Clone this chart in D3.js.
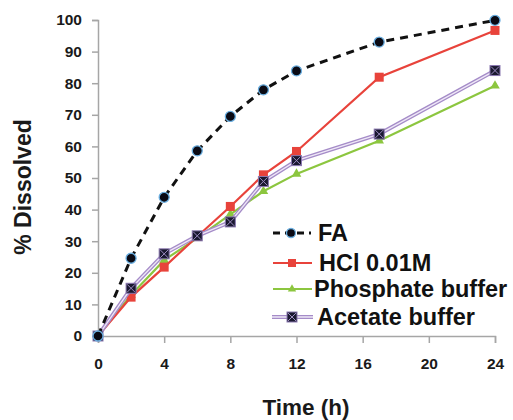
<!DOCTYPE html>
<html><head><meta charset="utf-8">
<script src="https://cdn.jsdelivr.net/npm/d3@7"></script>
<style>body{margin:0;background:#fff}svg{display:block}text{font-family:"Liberation Sans",Arial,sans-serif;font-weight:bold}</style>
</head><body><svg id="c" width="513" height="420"></svg>
<script>
const times = [0, 2, 4, 6, 8, 10, 12, 17, 24];
const faValues = [0, 24.6, 43.9, 58.6, 69.5, 77.9, 83.9, 93.0, 99.9];
const hclValues = [0, 12.3, 21.8, 31.5, 41.0, 51.0, 58.4, 81.9, 96.7];
const phosphateValues = [0, 13.0, 24.0, 31.0, 38.5, 45.8, 51.3, 61.8, 79.2];
const acetateValues = [0, 15.1, 26.0, 31.7, 36.1, 48.9, 55.5, 63.9, 84.0];
const seriesNames = ["FA", "HCl 0.01M", "Phosphate buffer", "Acetate buffer"];
const xTicks = [0, 4, 8, 12, 16, 20, 24];
const yTicks = [0, 10, 20, 30, 40, 50, 60, 70, 80, 90, 100];

const svg = d3.select("#c");
const x = d3.scaleLinear().domain([0, 24]).range([98, 495]);
const y = d3.scaleLinear().domain([0, 100]).range([336, 20]);
const axisColor = "#a6a6a6";

// Y axis
const ya = svg.append("g").attr("transform", "translate(98,0)")
  .call(d3.axisLeft(y).tickValues(yTicks).tickSize(6).tickPadding(10));
// X axis
const xa = svg.append("g").attr("transform", "translate(0,336)")
  .call(d3.axisBottom(x).tickValues(xTicks).tickSize(7).tickPadding(15));
[ya, xa].forEach(a => {
  a.select(".domain").attr("stroke", axisColor).attr("stroke-width", 1.5);
  a.selectAll(".tick line").attr("stroke", axisColor).attr("stroke-width", 1.5);
  a.selectAll("text").attr("fill", "#1a1a1a").style("font-size", "15.5px").style("font-weight", "bold")
    .style("font-family", "'Liberation Sans',Arial,sans-serif");
});

// titles
svg.append("text").attr("transform", "translate(31,187) rotate(-90)").attr("text-anchor", "middle")
  .style("font-size", "23px").attr("fill", "#1a1a1a").text("% Dissolved");
svg.append("text").attr("x", 306).attr("y", 415).attr("text-anchor", "middle")
  .style("font-size", "22.5px").attr("fill", "#1a1a1a").text("Time (h)");

const line = d3.line().x((d, i) => x(times[i])).y(d => y(d));

// Phosphate
svg.append("path").datum(phosphateValues).attr("d", line).attr("fill", "none")
  .attr("stroke", "#8cc63f").attr("stroke-width", 2.2);
const tri = d3.symbol().type(d3.symbolTriangle).size(40);
svg.selectAll(".pm").data(phosphateValues).enter().append("path")
  .attr("d", tri).attr("transform", (d, i) => `translate(${x(times[i])},${y(d)})`).attr("fill", "#8cc63f");

// HCl
svg.append("path").datum(hclValues).attr("d", line).attr("fill", "none")
  .attr("stroke", "#e8433b").attr("stroke-width", 2.2);
svg.selectAll(".hm").data(hclValues).enter().append("rect")
  .attr("x", (d, i) => x(times[i]) - 4.5).attr("y", d => y(d) - 4.5)
  .attr("width", 9).attr("height", 9).attr("fill", "#e8433b");

// Acetate (double line)
svg.append("path").datum(acetateValues).attr("d", line).attr("fill", "none")
  .attr("stroke", "#a58cc8").attr("stroke-width", 4);
svg.append("path").datum(acetateValues).attr("d", line).attr("fill", "none")
  .attr("stroke", "#efe8f7").attr("stroke-width", 1.3);
function acetateMarker(g, cx, cy) {
  g.append("rect").attr("x", cx - 5).attr("y", cy - 5).attr("width", 10).attr("height", 10)
    .attr("fill", "#1a1830").attr("stroke", "#8a78b0").attr("stroke-width", 1);
  g.append("path").attr("d", `M${cx - 4},${cy - 4}L${cx + 4},${cy + 4}M${cx - 4},${cy + 4}L${cx + 4},${cy - 4}`)
    .attr("stroke", "#9c8cc0").attr("stroke-width", 1);
}
const ag = svg.append("g");
acetateValues.forEach((v, i) => acetateMarker(ag, x(times[i]), y(v)));

// FA
svg.append("path").datum(faValues).attr("d", line).attr("fill", "none")
  .attr("stroke", "#111").attr("stroke-width", 3).attr("stroke-dasharray", "8,6");
svg.selectAll(".fm").data(faValues).enter().append("circle")
  .attr("cx", (d, i) => x(times[i])).attr("cy", d => y(d)).attr("r", 5)
  .attr("fill", "#0a0a14").attr("stroke", "#6aaee0").attr("stroke-width", 1.3);

// Legend
const leg = svg.append("g");
const rows = [233, 263, 289, 317];
const textX = [318, 319, 314, 317];
// FA sample
leg.append("line").attr("x1", 272).attr("x2", 311).attr("y1", rows[0]).attr("y2", rows[0])
  .attr("stroke", "#111").attr("stroke-width", 3).attr("stroke-dasharray", "7,5").attr("stroke-dashoffset", -1);
leg.append("circle").attr("cx", 291).attr("cy", rows[0]).attr("r", 4.5).attr("fill", "#0a0a14").attr("stroke", "#6aaee0").attr("stroke-width", 1.3);
// HCl sample
leg.append("line").attr("x1", 273).attr("x2", 312).attr("y1", rows[1]).attr("y2", rows[1]).attr("stroke", "#e8433b").attr("stroke-width", 2.2);
leg.append("rect").attr("x", 288).attr("y", rows[1] - 4).attr("width", 8).attr("height", 8).attr("fill", "#e8433b");
// Phosphate sample
leg.append("line").attr("x1", 273).attr("x2", 312).attr("y1", rows[2]).attr("y2", rows[2]).attr("stroke", "#8cc63f").attr("stroke-width", 2.2);
leg.append("path").attr("d", d3.symbol().type(d3.symbolTriangle).size(30)).attr("transform", `translate(292,${rows[2]})`).attr("fill", "#8cc63f");
// Acetate sample
leg.append("line").attr("x1", 272).attr("x2", 313).attr("y1", rows[3]).attr("y2", rows[3]).attr("stroke", "#a58cc8").attr("stroke-width", 4);
leg.append("line").attr("x1", 272).attr("x2", 313).attr("y1", rows[3]).attr("y2", rows[3]).attr("stroke", "#efe8f7").attr("stroke-width", 1.3);
acetateMarker(leg, 292, rows[3]);
seriesNames.forEach((n, i) => {
  leg.append("text").attr("x", textX[i]).attr("y", rows[i]).attr("dy", "0.36em")
    .style("font-size", "23.5px").attr("fill", "#111").text(n);
});
</script></body></html>
